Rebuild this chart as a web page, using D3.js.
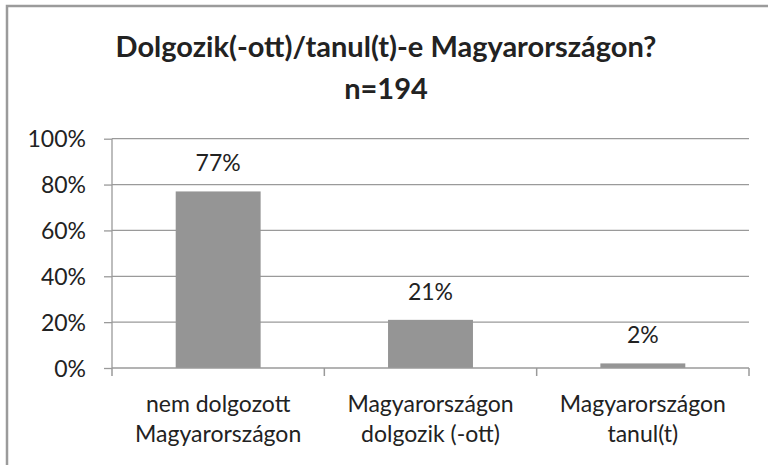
<!DOCTYPE html>
<html>
<head>
<meta charset="utf-8">
<script src="https://cdn.jsdelivr.net/npm/d3@7"></script>
<style>
  body { margin: 0; background: #fff; }
  text { font-family: Lato, "Liberation Sans", sans-serif; fill: #222; }
</style>
</head>
<body>
<div id="chart"></div>
<script>
//Dimensions of the page
const width = 768;
const height = 465;

//Chart data
const categories = [["nem dolgozott", "Magyarországon"], ["Magyarországon", "dolgozik (-ott)"], ["Magyarországon", "tanul(t)"]];
const values = [77, 21, 2];
const yTicks = [0, 20, 40, 60, 80, 100];
const titleLines = ["Dolgozik(-ott)/tanul(t)-e Magyarországon?", "n=194"];

//Plot area
const plotLeft = 112, plotRight = 749, plotTop = 138.7, plotBottom = 368;

const svg = d3.select("#chart").append("svg").attr("width", width).attr("height", height);

//Outer frame (only top and left edges are visible)
svg.append("path")
    .attr("d", `M7,${height} V6 H${width}`)
    .attr("fill", "none")
    .attr("stroke", "#9b9b9b")
    .attr("stroke-width", 2.5);

//Scales
const xscale = d3.scaleBand().domain(d3.range(categories.length)).range([plotLeft, plotRight]).paddingInner(0.6).paddingOuter(0.3);
const yscale = d3.scaleLinear().domain([0, 100]).range([plotBottom, plotTop]);

//Gridlines
svg.append("g").selectAll("line").data(yTicks.filter(d => d > 0)).enter().append("line")
    .attr("x1", plotLeft).attr("x2", plotRight)
    .attr("y1", d => yscale(d)).attr("y2", d => yscale(d))
    .attr("stroke", "#9a9a9a").attr("stroke-width", 1.3);

//Bars
svg.append("g").selectAll("rect").data(values).enter().append("rect")
    .attr("x", (d, i) => xscale(i))
    .attr("y", d => yscale(d))
    .attr("width", xscale.bandwidth())
    .attr("height", d => plotBottom - yscale(d))
    .attr("fill", "#959595");

//Y axis
const yAxis = d3.axisLeft(yscale).tickValues(yTicks).tickSize(8).tickPadding(18).tickFormat(d => d + "%");
const gy = svg.append("g").attr("transform", `translate(${plotLeft}, 0)`).call(yAxis);
gy.select(".domain").attr("stroke", "#9a9a9a").attr("stroke-width", 1.3).attr("d", `M0,${plotTop}V${plotBottom}`);
gy.selectAll(".tick line").attr("stroke", "#9a9a9a").attr("stroke-width", 1.3);
gy.selectAll(".tick text").style("font-size", "23px").attr("fill", "#222").attr("dy", "0.36em");

//X axis with ticks at category boundaries
const bounds = d3.range(categories.length + 1).map(i => plotLeft + i * (plotRight - plotLeft) / categories.length);
svg.append("line").attr("x1", plotLeft).attr("x2", plotRight).attr("y1", plotBottom).attr("y2", plotBottom)
    .attr("stroke", "#9a9a9a").attr("stroke-width", 1.5);
svg.append("g").selectAll("line").data(bounds).enter().append("line")
    .attr("x1", d => d).attr("x2", d => d).attr("y1", plotBottom).attr("y2", plotBottom + 8)
    .attr("stroke", "#9a9a9a").attr("stroke-width", 1.5);

//Category labels
const catText = svg.append("g").selectAll("text").data(categories).enter().append("text")
    .attr("text-anchor", "middle")
    .style("font-size", "23px");
catText.selectAll("tspan").data((d, i) => d.map(s => ({ s, i }))).enter().append("tspan")
    .attr("x", d => xscale(d.i) + xscale.bandwidth() / 2)
    .attr("y", (d, j) => 412 + j * 30)
    .text(d => d.s);

//Value labels
svg.append("g").selectAll("text").data(values).enter().append("text")
    .attr("x", (d, i) => xscale(i) + xscale.bandwidth() / 2)
    .attr("y", d => yscale(d) - 20)
    .attr("text-anchor", "middle")
    .style("font-size", "23px")
    .text(d => d + "%");

//Title
svg.append("g").selectAll("text").data(titleLines).enter().append("text")
    .attr("x", 386).attr("y", (d, i) => 57 + i * 42)
    .attr("text-anchor", "middle")
    .style("font-size", "29px").style("font-weight", "bold")
    .text(d => d);
</script>
</body>
</html>
